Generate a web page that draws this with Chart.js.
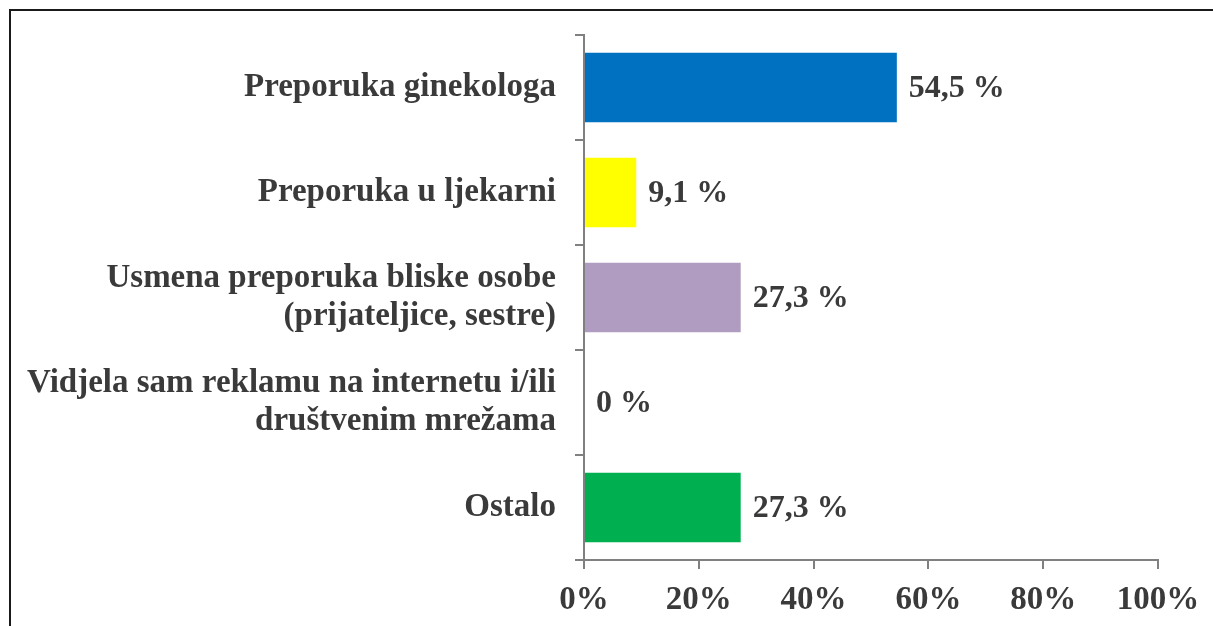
<!DOCTYPE html>
<html>
<head>
<meta charset="utf-8">
<script src="https://cdn.jsdelivr.net/npm/chart.js@4"></script>
<style>
  html, body { margin: 0; padding: 0; background: #fff; overflow: hidden; }
  #wrap { position: relative; width: 1213px; height: 626px; }
  #frame {
    position: absolute; left: 9px; top: 9px; width: 1220px; height: 640px;
    border: 2px solid #1a1a1a; box-sizing: border-box;
  }
  canvas { position: absolute; left: 0; top: 0; }
</style>
</head>
<body>
<div id="wrap">
  <div id="frame"></div>
  <canvas id="chart" width="1213" height="626"></canvas>
</div>
<script>
const categories = [
  "Preporuka ginekologa",
  "Preporuka u ljekarni",
  ["Usmena preporuka bliske osobe", "(prijateljice, sestre)"],
  ["Vidjela sam reklamu na internetu i/ili", "društvenim mrežama"],
  "Ostalo"
];
const values = [54.5, 9.1, 27.3, 0, 27.3];
const valueLabels = ["54,5 %", "9,1 %", "27,3 %", "0 %", "27,3 %"];
const barColors = ["#0070C0", "#FFFF00", "#B09CC0", "#B09CC0", "#00AF50"];
const xTicks = [0, 20, 40, 60, 80, 100];

const FONT = "'Liberation Serif', 'Times New Roman', serif";
const TEXT = "#3a3a3a";
const AXIS = "#808080";

// draws the value text to the right of each bar
const valueLabelPlugin = {
  id: "valueLabels",
  afterDatasetsDraw(chart) {
    const ctx = chart.ctx;
    const meta = chart.getDatasetMeta(0);
    ctx.save();
    ctx.font = "bold 32px " + FONT;
    ctx.fillStyle = TEXT;
    ctx.textAlign = "left";
    ctx.textBaseline = "middle";
    meta.data.forEach((bar, i) => {
      ctx.fillText(valueLabels[i], bar.x + 12, bar.y + 1);
    });
    ctx.restore();
  }
};

new Chart(document.getElementById("chart"), {
  type: "bar",
  data: {
    labels: categories,
    datasets: [{
      data: values,
      backgroundColor: barColors,
      borderWidth: 0,
      categoryPercentage: 0.66,
      barPercentage: 1
    }]
  },
  options: {
    indexAxis: "y",
    responsive: false,
    animation: false,
    layout: { padding: { top: 35, right: 55, bottom: 0, left: 0 } },
    plugins: {
      legend: { display: false },
      tooltip: { enabled: false }
    },
    scales: {
      x: {
        min: 0,
        max: 100,
        afterBuildTicks(scale) {
          scale.ticks = xTicks.map(v => ({ value: v }));
        },
        afterFit(scale) { scale.height = 66; },
        grid: {
          drawOnChartArea: false,
          drawTicks: true,
          tickLength: 9,
          color: AXIS,
          lineWidth: 2
        },
        border: { color: AXIS, width: 2 },
        ticks: {
          callback: v => v + "%",
          color: TEXT,
          padding: 12,
          maxRotation: 0,
          font: { family: FONT, size: 33, weight: "bold" }
        }
      },
      y: {
        offset: true,
        afterFit(scale) {
          scale.width = 584;
          scale.paddingTop = 0;
          scale.paddingBottom = 0;
        },
        grid: {
          offset: true,
          drawOnChartArea: false,
          drawTicks: true,
          tickLength: 9,
          color: AXIS,
          lineWidth: 2
        },
        border: { color: AXIS, width: 2 },
        ticks: {
          color: TEXT,
          padding: 19,
          font: { family: FONT, size: 33, weight: "bold", lineHeight: 1.15 }
        }
      }
    }
  },
  plugins: [valueLabelPlugin]
});
</script>
</body>
</html>
